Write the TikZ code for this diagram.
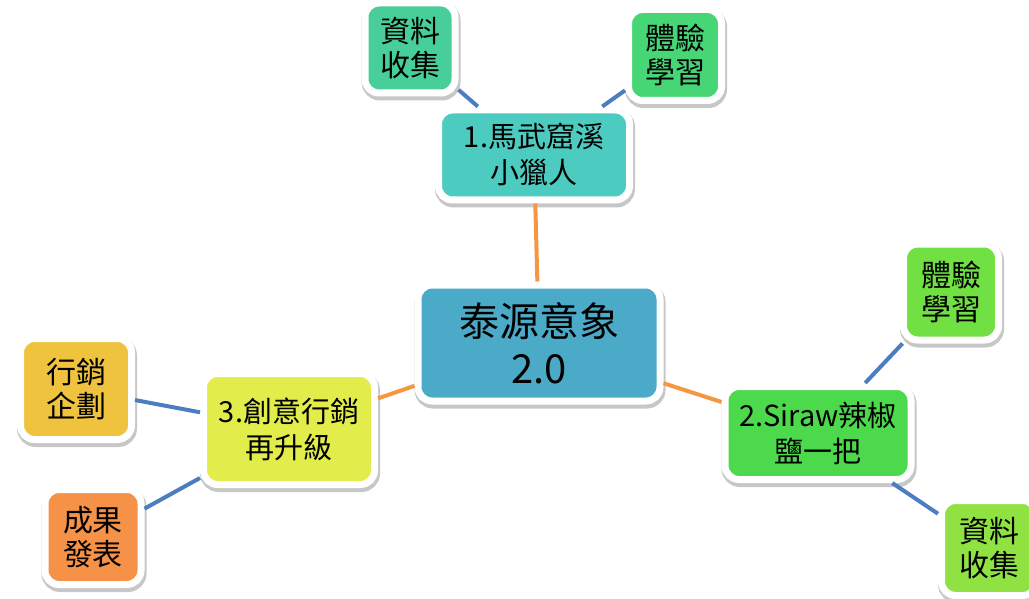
\documentclass[tikz,border=0pt]{standalone}
\usepackage{fontspec}
\setmainfont{Noto Sans CJK TC}
\usepackage{xcolor}
\usetikzlibrary{shadows}

\definecolor{datagreen}{RGB}{72,206,152}
\definecolor{expgreen}{RGB}{70,214,118}
\definecolor{riverteal}{RGB}{76,204,192}
\definecolor{coreblue}{RGB}{74,170,200}
\definecolor{ideayellow}{RGB}{226,236,74}
\definecolor{plangold}{RGB}{240,195,62}
\definecolor{resultorange}{RGB}{245,146,72}
\definecolor{sirawgreen}{RGB}{76,218,76}
\definecolor{explime}{RGB}{112,224,66}
\definecolor{datalime}{RGB}{144,226,66}
\definecolor{trunkorange}{RGB}{245,150,66}
\definecolor{twigblue}{RGB}{74,126,192}

\tikzset{
    box/.style={draw=white, line width=7pt, rounded corners=14pt, inner sep=0pt, align=center, text=black,
        drop shadow={shadow xshift=1pt, shadow yshift=-3pt, fill=black, draw=black, line width=9pt, opacity=0.22}},
    leaf/.style={box, font=\fontsize{30}{34}\selectfont},
    topic/.style={box, font=\fontsize{29}{36}\selectfont},
    hub/.style={box, font=\fontsize{40}{47}\selectfont},
    trunk/.style={line width=4pt, trunkorange},
    twig/.style={line width=4pt, twigblue}
}

\begin{document}
\begin{tikzpicture}[x=1pt,y=-1pt]
        \useasboundingbox (0,0) rectangle (1029,599);

        \node[hub, fill=coreblue, minimum width=242pt, minimum height=116pt] (core) at (539,343) {泰源意象\\2.0};

        \node[topic, fill=riverteal, minimum width=191pt, minimum height=90pt] (river) at (534,155) {1.馬武窟溪\\小獵人};
        \node[topic, fill=sirawgreen, minimum width=186pt, minimum height=93pt] (siraw) at (818,433) {2.Siraw辣椒\\鹽一把};
        \node[topic, fill=ideayellow, minimum width=171pt, minimum height=111pt] (idea) at (289,429) {3.創意行銷\\再升級};

        \node[leaf, fill=datagreen, minimum width=90pt, minimum height=90pt] (riverdata) at (410,48) {資料\\收集};
        \node[leaf, fill=expgreen, minimum width=93pt, minimum height=91pt] (riverexp) at (675,55) {體驗\\學習};
        \node[leaf, fill=explime, minimum width=95pt, minimum height=96pt] (sirawexp) at (951,292) {體驗\\學習};
        \node[leaf, fill=datalime, minimum width=95pt, minimum height=95pt] (sirawdata) at (989,548) {資料\\收集};
        \node[leaf, fill=plangold, minimum width=111pt, minimum height=101pt] (ideaplan) at (76,389) {行銷\\企劃};
        \node[leaf, fill=resultorange, minimum width=96pt, minimum height=95pt] (idearesult) at (93,537) {成果\\發表};

        \draw[trunk] (core) -- (river);
        \draw[trunk] (core) -- (siraw);
        \draw[trunk] (core) -- (idea);

        \draw[twig] (river) -- (riverdata);
        \draw[twig] (river) -- (riverexp);
        \draw[twig] (siraw) -- (sirawexp);
        \draw[twig] (siraw) -- (sirawdata);
        \draw[twig] (idea) -- (ideaplan);
        \draw[twig] (idea) -- (idearesult);
\end{tikzpicture}
\end{document}
